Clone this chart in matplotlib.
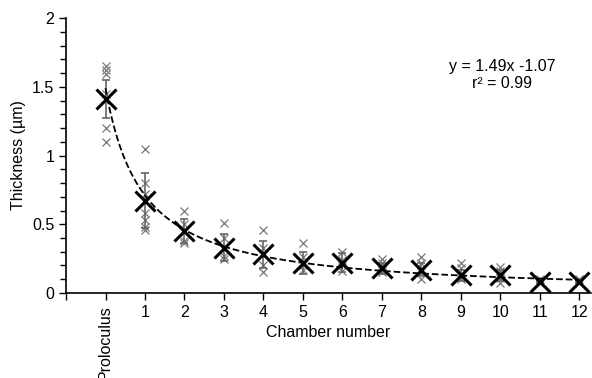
import matplotlib

matplotlib.use("Agg")
import matplotlib.pyplot as plt
import numpy as np

plt.rcParams["font.family"] = ["Liberation Sans", "DejaVu Sans"]

# chamber labels and positions (Proloculus = 1)
labels = ["Proloculus", "1", "2", "3", "4", "5", "6", "7", "8", "9", "10", "11", "12"]
positions = list(range(1, 14))

# individual measurements per chamber (um)
points = [
    [1.65, 1.62, 1.59, 1.45, 1.2, 1.1],
    [1.05, 0.80, 0.72, 0.58, 0.53, 0.48, 0.46],
    [0.60, 0.50, 0.44, 0.38, 0.36],
    [0.51, 0.40, 0.33, 0.27, 0.25],
    [0.46, 0.33, 0.28, 0.20, 0.15],
    [0.36, 0.26, 0.20, 0.17],
    [0.30, 0.24, 0.20, 0.16],
    [0.25, 0.22, 0.17, 0.15],
    [0.26, 0.22, 0.15, 0.10],
    [0.22, 0.18, 0.12, 0.10],
    [0.19, 0.16, 0.11, 0.07],
    [0.10, 0.08, 0.07],
    [0.10, 0.08, 0.07],
]
means = [1.41, 0.67, 0.45, 0.33, 0.28, 0.22, 0.22, 0.18, 0.17, 0.13, 0.13, 0.08, 0.08]
sds = [0.14, 0.20, 0.09, 0.10, 0.10, 0.08, 0.07, 0.04, 0.05, 0.04, 0.04, 0.01, 0.01]

fit_a = 1.49
fit_b = -1.07

fig = plt.figure(figsize=(5.92, 3.78), dpi=100)
ax = fig.add_axes([0.1115, 0.225, 0.886, 0.727])

for pos, vals in zip(positions, points):
    ax.plot([pos] * len(vals), vals, "x", color="#777777", ms=5.5, mew=0.9, zorder=2)

ax.errorbar(positions, means, yerr=sds, fmt="none", ecolor="#666666",
            elinewidth=1.2, capsize=3, capthick=1.2, zorder=3)

xs = np.linspace(1, 13, 200)
ax.plot(xs, fit_a * xs ** fit_b, "--", color="black", lw=1.3, zorder=4)

ax.plot(positions, means, "x", color="black", ms=15, mew=2.2, zorder=5)

ax.set_xlim(0, 13.28)
ax.set_ylim(0, 2)
ax.set_xticks(range(0, 14))
ax.set_xticklabels([""] + labels)
for lbl in ax.get_xticklabels()[1:2]:
    lbl.set_rotation(90)
ax.set_yticks([0, 0.5, 1, 1.5, 2])
ax.set_yticklabels(["0", "0.5", "1", "1.5", "2"])
ax.set_yticks(np.arange(0, 2.01, 0.1), minor=True)
ax.tick_params(axis="both", which="major", labelsize=11.5, length=5, width=1, color="black")
ax.tick_params(axis="y", which="minor", length=4, width=1)

for side in ["top", "right"]:
    ax.spines[side].set_visible(False)
for side in ["left", "bottom"]:
    ax.spines[side].set_linewidth(1.2)

ax.set_xlabel("Chamber number", fontsize=11.5)
ax.xaxis.set_label_coords(0.5, -0.115)
ax.set_ylabel("Thickness (\u00b5m)", fontsize=11.5, labelpad=4)

fig.text(502 / 592, 1 - 67 / 378, "y = 1.49x -1.07", fontsize=11.5, ha="center", va="center")
fig.text(502 / 592, 1 - 84 / 378, "r\u00b2 = 0.99", fontsize=11.5, ha="center", va="center")

fig.savefig("out.png", dpi=100)
